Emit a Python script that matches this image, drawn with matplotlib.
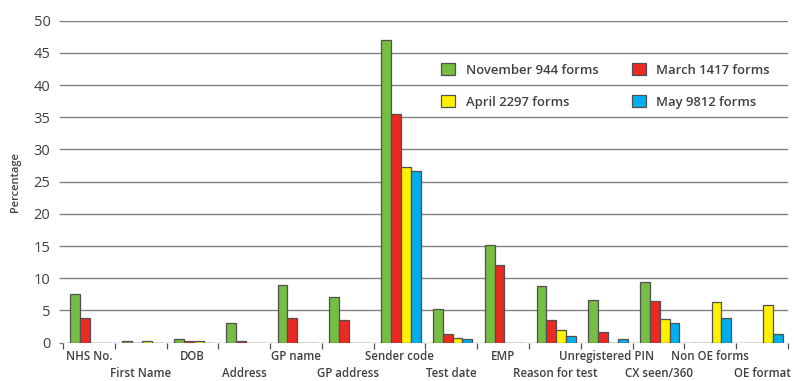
import matplotlib
matplotlib.use("Agg")
import matplotlib.pyplot as plt
from matplotlib.patches import Patch
import matplotlib.transforms as mtransforms
import numpy as np

plt.rcParams['font.family'] = ['Open Sans', 'DejaVu Sans']

categories = ["NHS No.", "First Name", "DOB", "Address", "GP name", "GP address",
              "Sender code", "Test date", "EMP", "Reason for test",
              "Unregistered PIN", "CX seen/360", "Non OE forms", "OE format"]

november = [7.5, 0.2, 0.5, 3.0, 8.9, 7.1, 47.0, 5.3, 15.1, 8.8, 6.6, 9.4, 0.0, 0.0]
march    = [3.8, 0.0, 0.3, 0.3, 3.8, 3.5, 35.5, 1.4, 12.0, 3.5, 1.7, 6.5, 0.0, 0.0]
april    = [0.0, 0.3, 0.3, 0.0, 0.0, 0.0, 27.3, 0.7, 0.0, 2.0, 0.0, 3.7, 6.3, 5.8]
may      = [0.0, 0.0, 0.0, 0.0, 0.0, 0.0, 26.6, 0.5, 0.0, 1.0, 0.5, 3.1, 3.8, 1.4]

series_labels = ["November 944 forms", "March 1417 forms", "April 2297 forms", "May 9812 forms"]
series_colors = ["#76bd43", "#ec2a23", "#fff100", "#00aeef"]
series = [november, march, april, may]

TEXT = "#404040"
GRID = "#808080"
EDGE = "#505050"

fig = plt.figure(figsize=(7.94, 3.81), dpi=100)
ax = fig.add_axes([0.0793, 0.1005, 0.9924 - 0.0793, 0.8455])

x = np.arange(len(categories))
w = 0.19
start = -0.5 + 0.145
for k, (vals, col) in enumerate(zip(series, series_colors)):
    ax.bar(x + start + k * w, vals, width=w, align="edge", color=col,
           edgecolor=EDGE, linewidth=0.9, zorder=3)

ax.set_xlim(-0.5, len(categories) - 0.5)
ax.set_ylim(0, 50)
ax.set_yticks(np.arange(0, 51, 5))
ax.yaxis.grid(True, color=GRID, linewidth=1.0, zorder=0)
ax.set_axisbelow(True)
for s in ax.spines.values():
    s.set_visible(False)

ax.tick_params(axis="y", length=3, width=0.9, color=GRID, pad=6,
               labelsize=10.5, labelcolor=TEXT)

# category boundaries get small ticks; names sit in two staggered rows
ax.set_xticks(np.arange(-0.5, len(categories)))
ax.set_xticklabels([])
ax.tick_params(axis="x", length=4, width=0.9, color=EDGE, direction="out")

base = mtransforms.blended_transform_factory(ax.transData, ax.transAxes)
for i, name in enumerate(categories):
    dy = -12.5 if i % 2 == 0 else -24.5
    tr = base + mtransforms.ScaledTranslation(0, dy / 72, fig.dpi_scale_trans)
    ax.text(i, 0, name, transform=tr, ha="center", va="baseline",
            fontsize=8.3, fontweight="semibold", color=TEXT)

ax.set_ylabel("Percentage", fontsize=8, fontweight="semibold", color=TEXT, labelpad=9)

handles = [Patch(facecolor=c, edgecolor=EDGE, linewidth=0.9) for c in series_colors]
order = [0, 2, 1, 3]
ax.legend([handles[i] for i in order], [series_labels[i] for i in order],
          ncol=2, frameon=False, loc="upper left", bbox_to_anchor=(0.522, 0.867),
          borderpad=0, borderaxespad=0, handlelength=1.03, handleheight=1.03,
          handletextpad=0.82, columnspacing=2.6, labelspacing=1.4,
          prop={"size": 9.4, "weight": "semibold"}, labelcolor=TEXT)

fig.savefig("out.png", dpi=100)
